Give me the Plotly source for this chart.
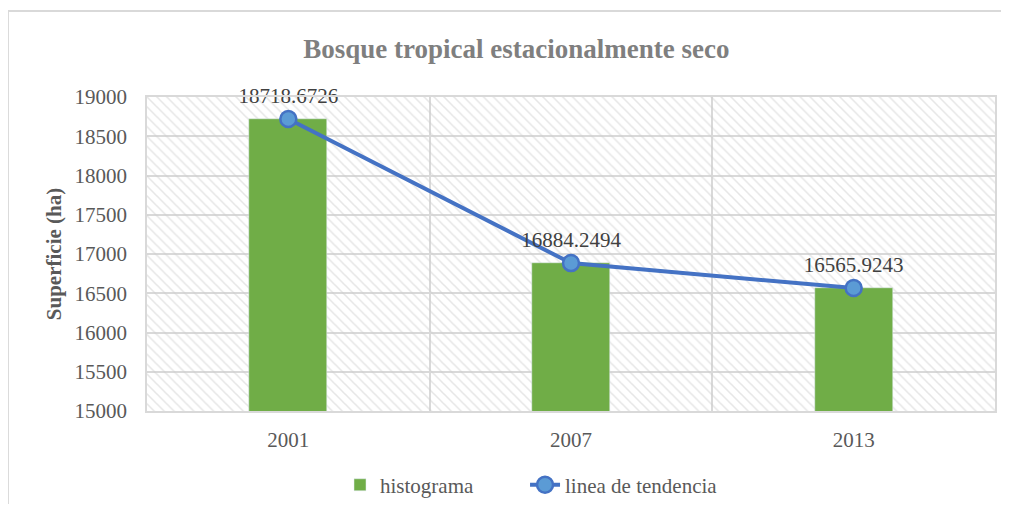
import plotly.graph_objects as go

years = ["2001", "2007", "2013"]
superficie = [18718.6726, 16884.2494, 16565.9243]
labels = ["18718.6726", "16884.2494", "16565.9243"]
y_ticks = [15000, 15500, 16000, 16500, 17000, 17500, 18000, 18500, 19000]
y_ticktext = [str(v) for v in y_ticks]

serif = "Liberation Serif"
grid = "#d9d9d9"

fig = go.Figure()

# hatched plot background (Excel pattern fill), on the base axes so it sits under the data
fig.add_trace(go.Bar(
    x=[0.5], y=[1], width=[1],
    xaxis="x", yaxis="y",
    marker=dict(color="rgba(0,0,0,0)", line_width=0,
                pattern=dict(shape="\\", fgcolor="#cdcdcd", bgcolor="rgba(0,0,0,0)",
                             size=7, solidity=0.22, fillmode="overlay")),
    showlegend=False, hoverinfo="skip",
))

fig.add_trace(go.Bar(
    x=years, y=superficie,
    xaxis="x2", yaxis="y2",
    name="histograma",
    legend="legend",
    marker_color="#70ad47",
    width=0.276,
))

fig.add_trace(go.Scatter(
    x=years, y=superficie,
    xaxis="x2", yaxis="y2",
    name="linea de tendencia",
    legend="legend2",
    mode="lines+markers+text",
    text=labels,
    textposition="top center",
    cliponaxis=False,
    textfont=dict(family=serif, size=21, color="#404040"),
    line=dict(color="#4472c4", width=4),
    marker=dict(size=16, color="#5b9bd5", line=dict(color="#4472c4", width=2.5)),
))

legend_font = dict(family=serif, size=21, color="#595959")

fig.update_layout(
    width=993, height=496,
    margin=dict(l=139, r=6, t=89, b=93, autoexpand=False),
    paper_bgcolor="white",
    plot_bgcolor="white",
    font=dict(family=serif, size=21, color="#595959"),
    title=dict(text="<b>Bosque tropical estacionalmente seco</b>",
               x=0.512, xanchor="center", y=0.919, yanchor="middle",
               font=dict(family=serif, size=27, color="#7f7f7f")),
    legend=dict(orientation="h", x=0.2276, xanchor="left", y=-0.236, yanchor="middle",
                font=legend_font),
    legend2=dict(orientation="h", x=0.4458, xanchor="left", y=-0.236, yanchor="middle",
                 font=legend_font),
    bargap=0,
    xaxis=dict(range=[0, 1], visible=False, fixedrange=True),
    yaxis=dict(range=[0, 1], visible=False, fixedrange=True),
    xaxis2=dict(overlaying="x", type="category", range=[-0.5, 2.5], showgrid=True,
                gridcolor=grid, gridwidth=1.5, tickson="boundaries", ticks="outside",
                ticklen=0, showline=True, linecolor=grid, linewidth=1.5, mirror=True,
                ticklabelstandoff=9, zeroline=False, anchor="y2", automargin=False),
    yaxis2=dict(overlaying="y", range=[15000, 19000], tickvals=y_ticks, ticktext=y_ticktext,
                showgrid=True, gridcolor=grid, gridwidth=1.5, zeroline=False,
                showline=True, linecolor=grid, linewidth=1.5, mirror=True,
                ticklabelstandoff=14, anchor="x2", side="left", automargin=False,
                title=dict(text="<b>Superficie (ha)</b>", standoff=7,
                           font=dict(family=serif, size=21, color="#595959"))),
)

# outer chart-area border
fig.add_shape(type="rect", xref="paper", yref="paper",
              x0=-0.164, x1=1.06, y0=-0.5, y1=1.274,
              line=dict(color="#d9d9d9", width=2), fillcolor="rgba(0,0,0,0)", layer="below")

fig.write_html("out.html")
